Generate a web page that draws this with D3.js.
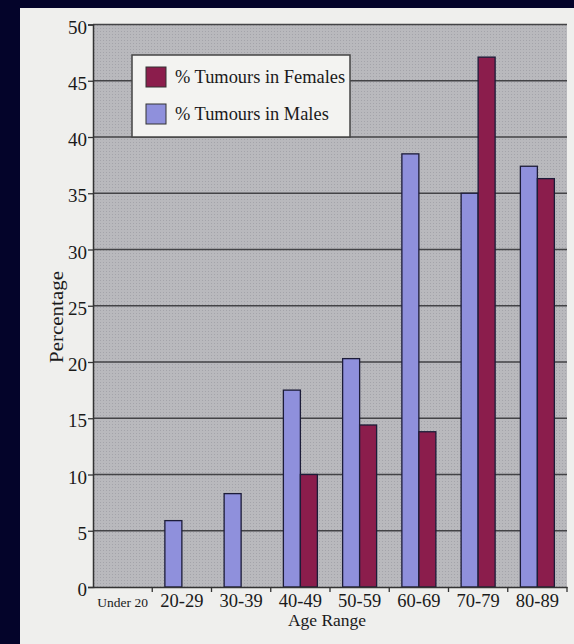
<!DOCTYPE html>
<html><head><meta charset="utf-8">
<script src="https://cdn.jsdelivr.net/npm/d3@7"></script>
<style>html,body{margin:0;padding:0;background:#04042a;}svg{display:block;}</style>
</head><body>
<svg id="chart" width="574" height="644"></svg>
<script>
const categories = ["Under 20","20-29","30-39","40-49","50-59","60-69","70-79","80-89"];
const seriesNames = ["% Tumours in Males","% Tumours in Females"];
const males   = [0, 5.9, 8.3, 17.5, 20.3, 38.5, 35.0, 37.4];
const females = [0, 0, 0, 10.0, 14.4, 13.8, 47.1, 36.3];
const yTicks = [0,5,10,15,20,25,30,35,40,45,50];
const legendOrder = ["% Tumours in Females","% Tumours in Males"];
const colors = {"% Tumours in Males":"#8f90dc","% Tumours in Females":"#8b1d4c"};

(function(){
const svg = d3.select("#chart");
const W = 574, H = 644;
const FONT = "'Liberation Serif', 'Times New Roman', serif";
const INK = "#1a1a1a";
svg.append("rect").attr("x",0).attr("y",0).attr("width",W).attr("height",H).attr("fill","#04042a");
svg.append("rect").attr("x",20).attr("y",8).attr("width",W-20).attr("height",H-8).attr("fill","#efefed");

const defs = svg.append("defs");
const pat = defs.append("pattern").attr("id","dots").attr("width",3).attr("height",3).attr("patternUnits","userSpaceOnUse");
pat.append("rect").attr("width",3).attr("height",3).attr("fill","#b9b9bd");
pat.append("rect").attr("x",1).attr("y",1).attr("width",1).attr("height",1).attr("fill","#a4a4aa");

const pL = 93, pR = 567, pT = 24.5, pB = 587;
const x = d3.scaleBand().domain(categories).range([pL,pR]).paddingInner(0).paddingOuter(0);
const y = d3.scaleLinear().domain([0,50]).range([pB,pT]);
const sub = d3.scaleBand().domain(seriesNames).range([-17,17]).padding(0);

svg.append("rect").attr("x",pL).attr("y",pT).attr("width",pR-pL).attr("height",pB-pT).attr("fill","url(#dots)");

svg.append("g").selectAll("line").data(yTicks.filter(d=>d>0)).join("line")
  .attr("x1",pL).attr("x2",pR).attr("y1",d=>y(d)).attr("y2",d=>y(d))
  .attr("stroke","#434346").attr("stroke-width",1.7);

const data = categories.map((c,i)=>({cat:c, vals:[{s:seriesNames[0],v:males[i]},{s:seriesNames[1],v:females[i]}]}));
const g = svg.append("g");
data.forEach(d=>{
  const cx = x(d.cat) + x.bandwidth()/2;
  d.vals.forEach(b=>{
    if (b.v <= 0) return;
    g.append("rect")
      .attr("x", cx + sub(b.s)).attr("width", sub.bandwidth())
      .attr("y", y(b.v)).attr("height", y(0)-y(b.v))
      .attr("fill", colors[b.s]).attr("stroke","#1c1c38").attr("stroke-width",1.3);
  });
});

const yAxis = d3.axisLeft(y).tickValues(yTicks).tickSize(5).tickPadding(1).tickFormat(d3.format("d"));
const ya = svg.append("g").attr("transform",`translate(${pL},0)`).call(yAxis);
ya.attr("font-family",FONT);
ya.select(".domain").attr("stroke","#333").attr("stroke-width",1.5);
ya.selectAll(".tick line").attr("stroke","#333").attr("stroke-width",1.3);
ya.selectAll(".tick text").attr("font-family",FONT).attr("font-size",19).attr("fill",INK).attr("dy","0.45em");

const xAxis = d3.axisBottom(x).tickSize(0).tickPadding(0);
const xa = svg.append("g").attr("transform",`translate(0,${pB})`).call(xAxis);
xa.attr("font-family",FONT);
xa.select(".domain").attr("stroke","#333").attr("stroke-width",1.6);
xa.selectAll(".tick text").attr("font-family",FONT).attr("font-size",d=>d==="Under 20"?13.5:18.5).attr("fill",INK)
  .attr("dy",0).attr("y",19.5);
svg.append("g").selectAll("line").data(categories.slice(1).concat(["__end"])).join("line")
  .attr("x1",d=>d==="__end"?pR:x(d)).attr("x2",d=>d==="__end"?pR:x(d))
  .attr("y1",pB).attr("y2",pB+5).attr("stroke","#333").attr("stroke-width",1.3);

svg.append("text").attr("x",327).attr("y",626).attr("text-anchor","middle")
  .attr("font-family",FONT).attr("font-size",17.5).attr("fill",INK).text("Age Range");
svg.append("text").attr("transform","translate(63,317) rotate(-90)").attr("text-anchor","middle")
  .attr("font-family",FONT).attr("font-size",18).attr("textLength",92).attr("lengthAdjust","spacingAndGlyphs")
  .attr("fill",INK).text("Percentage");

const lg = svg.append("g");
lg.append("rect").attr("x",132).attr("y",55).attr("width",218).attr("height",82)
  .attr("fill","#f3f3f1").attr("stroke","#444").attr("stroke-width",1.5);
legendOrder.forEach((s,i)=>{
  const yy = 67 + i*37;
  lg.append("rect").attr("x",146).attr("y",yy).attr("width",20).attr("height",20)
    .attr("fill",colors[s]).attr("stroke","#333").attr("stroke-width",1);
  lg.append("text").attr("x",175).attr("y",yy+15.5).attr("font-family",FONT)
    .attr("font-size",18.4).attr("fill",INK).text(s);
});
})();
</script>
</body></html>
